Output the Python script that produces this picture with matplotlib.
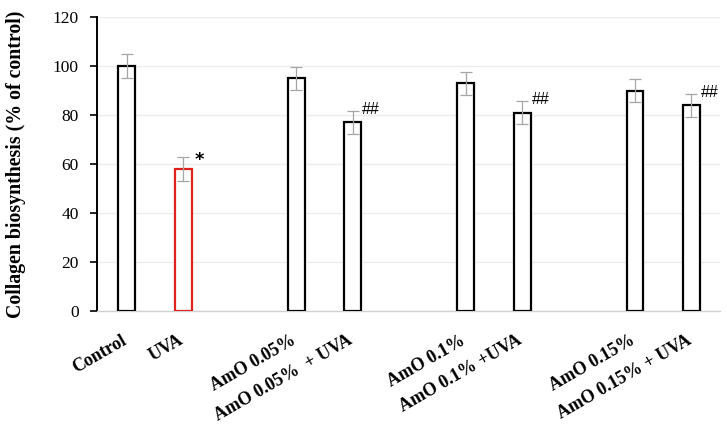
import matplotlib
matplotlib.use("Agg")
from matplotlib import pyplot as plt
import numpy as np

# data
labels = ["Control", "UVA", "AmO 0.05%", "AmO 0.05%  + UVA",
          "AmO 0.1%", "AmO 0.1% +UVA", "AmO 0.15%", "AmO 0.15% + UVA"]
slots = [0, 1, 3, 4, 6, 7, 9, 10]
values = [100, 58, 95, 77, 93, 81, 90, 84]
errors = [4.8, 4.8, 4.7, 4.7, 4.7, 4.7, 4.7, 4.7]
marks = ["", "*", "", "##", "", "##", "", "##"]
edge_colors = ["black", "#e3211c", "black", "black", "black", "black", "black", "black"]

plt.rcParams["font.family"] = "Liberation Serif"

fig = plt.figure(figsize=(7.27, 4.29), dpi=100)
ax = fig.add_axes([0.133, 0.275, 0.857, 0.685])

ax.bar(slots, values, width=0.3, color="white", edgecolor=edge_colors,
       linewidth=1.6, zorder=3)
ax.errorbar(slots, values, yerr=errors, fmt="none", ecolor="#a6a6a6",
            elinewidth=0.9, capsize=4, capthick=0.9, zorder=4)

for x, v, e, m in zip(slots, values, errors, marks):
    if m == "*":
        ax.text(x + 0.2, v + e - 1.0, m, fontsize=13, fontweight="bold",
                ha="left", va="center", family="DejaVu Sans", zorder=5)
    elif m:
        ax.text(x + 0.17, v + e + 0.5, m, fontsize=11.5, ha="left", va="center",
                family="Liberation Sans", zorder=5)

ax.set_xlim(-0.53, 10.5)
ax.set_ylim(0, 120)
ax.set_yticks(np.arange(0, 121, 20))
ax.yaxis.grid(True, color="#ececec", linewidth=1, zorder=0)
ax.set_axisbelow(True)

# slanted labels sit a touch left of the bar centres in the original
ax.set_xticks([s - 0.1 for s in slots])
ax.set_xticklabels(labels, rotation=30, ha="right", va="top",
                   rotation_mode="anchor", fontweight="bold", fontsize=13)
ax.tick_params(axis="x", length=0, pad=15)
ax.tick_params(axis="y", length=5, width=1.2, direction="out", labelsize=12.5, pad=8)

ax.spines["top"].set_visible(False)
ax.spines["right"].set_visible(False)
ax.spines["left"].set_linewidth(1.4)
ax.spines["bottom"].set_color("#d0d0d0")
ax.spines["bottom"].set_linewidth(1)

ax.set_ylabel("Collagen biosynthesis (% of control)", fontweight="bold",
              fontsize=14.3, labelpad=19)

fig.savefig("out.png", dpi=100)
